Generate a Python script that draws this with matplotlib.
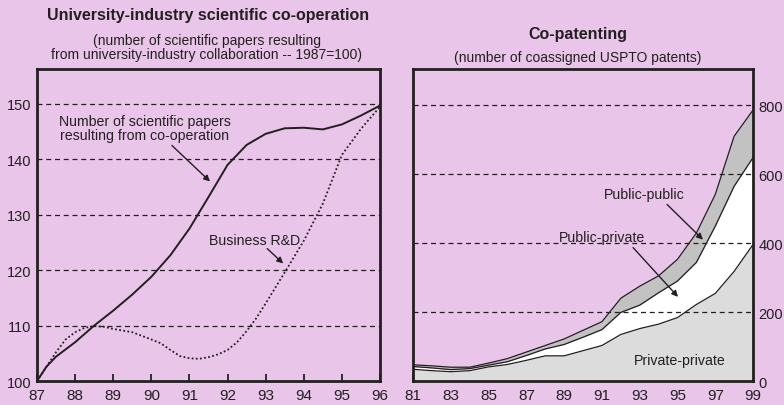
import numpy as np
import matplotlib
matplotlib.use("Agg")
import matplotlib.pyplot as plt

plt.rcParams['font.family'] = ['Liberation Sans', 'DejaVu Sans']

# --- datos panel izquierdo (indice 1987=100) ---
yr_papers = [87.0, 87.25, 87.5, 88.0, 88.5, 89.0, 89.5, 90.0, 90.5, 91.0,
             91.5, 92.0, 92.5, 93.0, 93.5, 94.0, 94.5, 95.0, 95.5, 96.0]
papers = [100, 102.6, 104.4, 107.0, 110.0, 112.7, 115.6, 118.8, 122.7, 127.5,
          133.2, 139.0, 142.6, 144.6, 145.6, 145.7, 145.4, 146.3, 147.9, 149.7]

yr_brd = [87.0, 87.25, 87.5, 87.75, 88.0, 88.25, 88.5, 88.75, 89.0, 89.5,
          90.0, 90.25, 90.5, 90.75, 91.0, 91.25, 91.5, 91.75, 92.0, 92.25,
          92.5, 92.75, 93.0, 93.5, 94.0, 94.5, 95.0, 95.5, 96.0]
brd = [100, 102.6, 105.2, 107.5, 108.8, 109.6, 109.9, 109.8, 109.4, 108.8,
       107.5, 106.8, 105.6, 104.5, 104.1, 104.0, 104.3, 104.8, 105.6, 107.0,
       109.0, 111.3, 114.0, 119.6, 125.3, 132.0, 140.8, 145.5, 149.5]

# --- datos panel derecho (patentes co-asignadas, acumulado) ---
years = list(range(81, 100))
private_private = [34, 30, 27, 30, 41, 48, 60, 73, 73, 88, 103, 135, 152, 165,
                   184, 222, 254, 318, 396]
cum_public_private = [42, 38, 33, 36, 46, 56, 74, 93, 106, 127, 149, 199, 220,
                      256, 290, 344, 449, 565, 648]
cum_public_public = [47, 44, 40, 40, 52, 65, 84, 103, 122, 147, 172, 240, 275,
                     305, 353, 429, 541, 710, 786]

BG = '#e9c6e9'
INK = '#231f20'
FS_NOTE = 10.2

fig = plt.figure(figsize=(7.84, 4.06), dpi=100, facecolor=BG)
ax1 = fig.add_axes([0.0472, 0.0591, 0.4375, 0.7685])
ax2 = fig.add_axes([0.5268, 0.0591, 0.4337, 0.7685])

for ax in (ax1, ax2):
    ax.set_facecolor(BG)
    for s in ax.spines.values():
        s.set_linewidth(2.0)
        s.set_color(INK)
    ax.tick_params(axis='x', direction='in', length=5, width=1.3, color=INK,
                   labelsize=11, pad=5, labelcolor=INK)
    ax.tick_params(axis='y', length=0, labelsize=10.5, pad=4, labelcolor=INK)

# panel izquierdo
ax1.set_xlim(87, 96)
ax1.set_ylim(100, 156.3)
ax1.set_xticks(range(87, 97))
ax1.set_yticks([100, 110, 120, 130, 140, 150])
for v in [110, 120, 130, 140, 150]:
    ax1.axhline(v, color=INK, lw=0.9, ls=(0, (4, 3)), zorder=1)
ax1.plot(yr_papers, papers, color=INK, lw=1.4, zorder=3)
ax1.plot(yr_brd, brd, color=INK, lw=1.3, ls=(0, (1, 1.3)), zorder=3)

arrow = dict(arrowstyle='-|>', color=INK, lw=1.0, mutation_scale=9,
             shrinkA=0, shrinkB=0)
ax1.text(89.82, 145.7, "Number of scientific papers\nresulting from co-operation",
         ha='center', va='center', fontsize=FS_NOTE, color=INK, linespacing=1.0)
ax1.annotate("", xy=(91.54, 136.0), xytext=(90.54, 142.5), arrowprops=arrow)
ax1.text(92.70, 125.5, "Business R&D", ha='center', va='center',
         fontsize=FS_NOTE, color=INK)
ax1.annotate("", xy=(93.46, 121.2), xytext=(93.04, 123.9), arrowprops=arrow)

# panel derecho
ax2.set_xlim(81, 99)
ax2.set_ylim(0, 905)
ax2.set_xticks(range(81, 100, 2))
ax2.set_yticks([0, 200, 400, 600, 800])
ax2.yaxis.tick_right()
for v in [200, 400, 600, 800]:
    ax2.axhline(v, color=INK, lw=0.9, ls=(0, (4, 3)), zorder=4)

ax2.fill_between(years, 0, private_private, color='#dcdcdc', lw=0, zorder=2)
ax2.fill_between(years, private_private, cum_public_private, color='white',
                 lw=0, zorder=2)
ax2.fill_between(years, cum_public_private, cum_public_public, color='#c2c2c2',
                 lw=0, zorder=2)
for s in (private_private, cum_public_private, cum_public_public):
    ax2.plot(years, s, color=INK, lw=0.9, zorder=3)

ax2.text(93.23, 541, "Public-public", ha='center', va='center',
         fontsize=FS_NOTE, color=INK)
ax2.annotate("", xy=(96.35, 410), xytext=(94.45, 512), arrowprops=arrow,
             zorder=5)
ax2.text(90.98, 419, "Public-private", ha='center', va='center',
         fontsize=FS_NOTE, color=INK)
ax2.annotate("", xy=(95.03, 244), xytext=(92.65, 387), arrowprops=arrow,
             zorder=5)
ax2.text(95.13, 61, "Private-private", ha='center', va='center',
         fontsize=FS_NOTE, color=INK, zorder=5)

# titulos
fig.text(0.265, 0.962, "University-industry scientific co-operation",
         ha='center', va='center', fontsize=11.5, fontweight='bold', color=INK)
fig.text(0.264, 0.882, "(number of scientific papers resulting\n"
         "from university-industry collaboration -- 1987=100)",
         ha='center', va='center', fontsize=10, color=INK, linespacing=1.0)
fig.text(0.737, 0.916, "Co-patenting", ha='center', va='center', fontsize=11.5,
         fontweight='bold', color=INK)
fig.text(0.737, 0.857, "(number of coassigned USPTO patents)", ha='center',
         va='center', fontsize=10, color=INK)

fig.savefig("out.png", dpi=100, facecolor=BG)
